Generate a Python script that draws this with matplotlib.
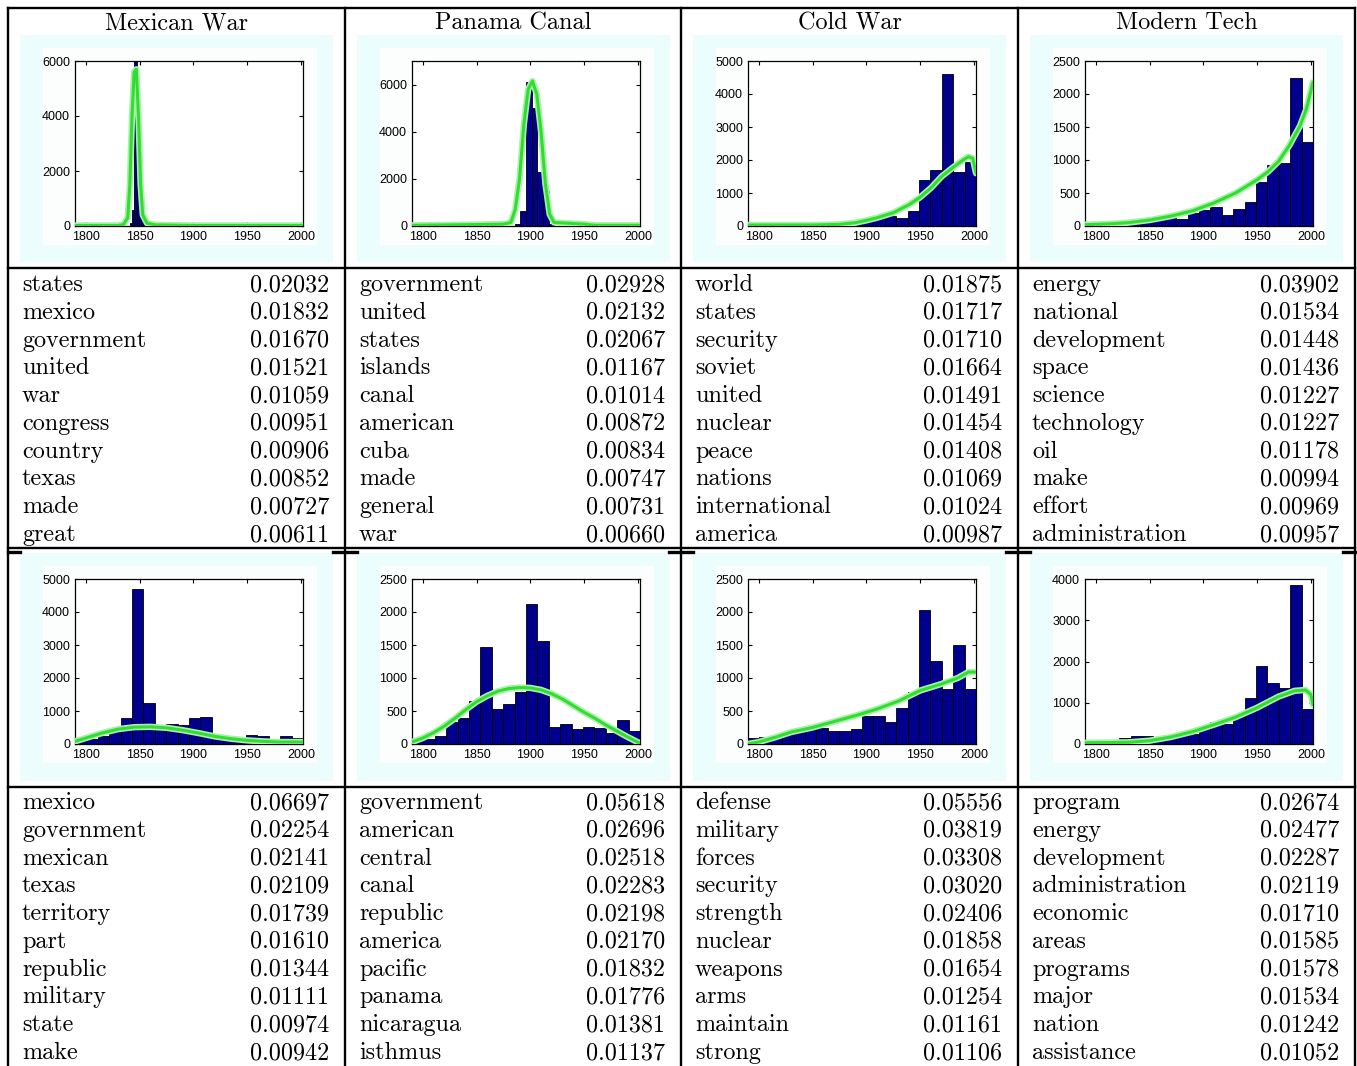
import numpy as np
import matplotlib.pyplot as plt
from matplotlib.patches import Rectangle

W, H = 1357, 1066

topics = ["Mexican War", "Panama Canal", "Cold War", "Modern Tech"]

# ---- word lists (top block) ----
words_top = [
    ["states", "mexico", "government", "united", "war", "congress", "country", "texas", "made", "great"],
    ["government", "united", "states", "islands", "canal", "american", "cuba", "made", "general", "war"],
    ["world", "states", "security", "soviet", "united", "nuclear", "peace", "nations", "international", "america"],
    ["energy", "national", "development", "space", "science", "technology", "oil", "make", "effort", "administration"],
]
probs_top = [
    [0.02032, 0.01832, 0.01670, 0.01521, 0.01059, 0.00951, 0.00906, 0.00852, 0.00727, 0.00611],
    [0.02928, 0.02132, 0.02067, 0.01167, 0.01014, 0.00872, 0.00834, 0.00747, 0.00731, 0.00660],
    [0.01875, 0.01717, 0.01710, 0.01664, 0.01491, 0.01454, 0.01408, 0.01069, 0.01024, 0.00987],
    [0.03902, 0.01534, 0.01448, 0.01436, 0.01227, 0.01227, 0.01178, 0.00994, 0.00969, 0.00957],
]

# ---- word lists (bottom block) ----
words_bot = [
    ["mexico", "government", "mexican", "texas", "territory", "part", "republic", "military", "state", "make"],
    ["government", "american", "central", "canal", "republic", "america", "pacific", "panama", "nicaragua", "isthmus"],
    ["defense", "military", "forces", "security", "strength", "nuclear", "weapons", "arms", "maintain", "strong"],
    ["program", "energy", "development", "administration", "economic", "areas", "programs", "major", "nation", "assistance"],
]
probs_bot = [
    [0.06697, 0.02254, 0.02141, 0.02109, 0.01739, 0.01610, 0.01344, 0.01111, 0.00974, 0.00942],
    [0.05618, 0.02696, 0.02518, 0.02283, 0.02198, 0.02170, 0.01832, 0.01776, 0.01381, 0.01137],
    [0.05556, 0.03819, 0.03308, 0.03020, 0.02406, 0.01858, 0.01654, 0.01254, 0.01161, 0.01106],
    [0.02674, 0.02477, 0.02287, 0.02119, 0.01710, 0.01585, 0.01578, 0.01534, 0.01242, 0.01052],
]

YEAR0, YEAR1 = 1790, 2002

# ---- histogram counts, top row ----
hist_top = [
    [0] * 24 + [100, 600, 6000, 3300, 1700, 300, 100] + [0] * 69,          # 100 bins
    [0] * 18 + [100, 650, 6100, 5000, 2300, 1500, 100] + [0] * 15,         # 40 bins
    [20, 20, 20, 20, 20, 20, 20, 20, 40, 80, 200, 230, 300, 250, 440, 1390, 1690, 4600, 1630, 1950],
    [30, 20, 30, 90, 80, 110, 130, 120, 100, 190, 240, 290, 170, 260, 360, 670, 930, 960, 2250, 1280],
]
# ---- histogram counts, bottom row (20 bins) ----
hist_bot = [
    [100, 150, 250, 470, 780, 4690, 1250, 520, 620, 570, 780, 830, 200, 150, 100, 270, 240, 120, 240, 190],
    [60, 80, 120, 340, 390, 650, 1475, 530, 600, 790, 2120, 1565, 260, 310, 220, 260, 240, 170, 360, 200],
    [85, 110, 110, 185, 230, 260, 240, 190, 190, 230, 425, 425, 340, 550, 790, 2030, 1260, 835, 1500, 835],
    [20, 30, 40, 150, 190, 190, 170, 140, 220, 240, 400, 540, 480, 700, 1120, 1890, 1470, 1350, 3850, 850],
]

# ---- fitted curves ----
fit_top = [
    ([1790, 1830, 1835, 1839, 1841, 1843, 1845, 1847, 1849, 1851, 1853, 1857, 1865, 1900, 2002],
     [20, 20, 50, 300, 1500, 4000, 5600, 5700, 4000, 1500, 400, 100, 40, 20, 20]),
    ([1790, 1850, 1875, 1882, 1886, 1890, 1894, 1898, 1902, 1906, 1910, 1914, 1918, 1922, 1950, 1960, 2002],
     [30, 60, 80, 150, 700, 2000, 4300, 5800, 6150, 5600, 4000, 1800, 500, 150, 80, 30, 30]),
    ([1790, 1850, 1875, 1890, 1900, 1910, 1925, 1940, 1950, 1960, 1970, 1980, 1990, 1995, 1999, 2002],
     [30, 30, 50, 100, 170, 250, 400, 650, 870, 1150, 1500, 1760, 2000, 2100, 2050, 1600]),
    ([1790, 1810, 1830, 1850, 1870, 1890, 1910, 1930, 1950, 1960, 1970, 1980, 1990, 1996, 2002],
     [20, 30, 50, 90, 150, 230, 350, 500, 700, 820, 980, 1220, 1520, 1780, 2180]),
]
fit_bot = [
    ([1790, 1800, 1815, 1830, 1845, 1860, 1875, 1890, 1905, 1920, 1935, 1950, 1965, 1980, 2002],
     [80, 180, 330, 450, 510, 520, 490, 420, 330, 230, 160, 110, 80, 60, 60]),
    ([1790, 1800, 1810, 1820, 1830, 1840, 1850, 1860, 1870, 1880, 1890, 1900, 1910, 1920, 1930,
      1940, 1950, 1960, 1970, 1980, 1990, 2002],
     [30, 90, 170, 270, 390, 520, 640, 730, 800, 840, 855, 850, 820, 760, 680,
      580, 480, 390, 290, 200, 110, 10]),
    ([1790, 1800, 1815, 1830, 1850, 1870, 1890, 1910, 1930, 1950, 1970, 1985, 1995, 2002],
     [0, 30, 100, 180, 250, 340, 430, 530, 650, 810, 910, 1000, 1090, 1090]),
    ([1790, 1830, 1850, 1870, 1890, 1910, 1930, 1950, 1970, 1985, 1995, 2000, 2002],
     [30, 40, 80, 170, 300, 470, 650, 880, 1150, 1290, 1310, 1200, 950]),
]

ylim_top = [6000, 7000, 5000, 2500]
ystep_top = [2000, 2000, 1000, 500]
ylim_bot = [5000, 2500, 2500, 4000]
ystep_bot = [1000, 500, 500, 1000]

# ---------------- layout ----------------
seps = [8, 345, 681, 1018, 1355]
CYAN = "#ebfdfd"
SERIF = "cmr10"
FS = 17.4

fig = plt.figure(figsize=(W / 100, H / 100), dpi=100)
bg = fig.add_axes([0, 0, 1, 1])
bg.set_xlim(0, W)
bg.set_ylim(H, 0)
bg.axis("off")


def fig_rect(x0, y0, x1, y1):
    return [x0 / W, 1 - y1 / H, (x1 - x0) / W, (y1 - y0) / H]


def draw_plot(L, rows, counts, fit, ymax, ystep):
    cy0, cy1, wy0, wy1, ay0, ay1 = rows
    bg.add_patch(Rectangle((L + 12, cy0), 313, cy1 - cy0, color=CYAN, lw=0, zorder=0))
    bg.add_patch(Rectangle((L + 35, wy0), 274, wy1 - wy0, color="#fcfefe", lw=0, zorder=1))
    ax = fig.add_axes(fig_rect(L + 67, ay0, L + 295, ay1))
    edges = np.linspace(YEAR0, YEAR1, len(counts) + 1)
    ax.bar(edges[:-1], counts, width=np.diff(edges), align="edge",
           color="#00008c", edgecolor="black", linewidth=0.6, zorder=2)
    ax.plot(fit[0], fit[1], color="#a8f2a8", lw=4.6, solid_capstyle="round", zorder=3)
    ax.plot(fit[0], fit[1], color="#33dc33", lw=2.2, solid_capstyle="round", zorder=4)
    ax.set_xlim(YEAR0, YEAR1)
    ax.set_ylim(0, ymax)
    ax.set_xticks([1800, 1850, 1900, 1950, 2000])
    ax.set_yticks(np.arange(0, ymax + 1, ystep))
    ax.tick_params(direction="in", length=3, width=0.8, top=True, right=True,
                   labelsize=9, pad=3.5)
    for lab in ax.get_xticklabels() + ax.get_yticklabels():
        lab.set_fontfamily("Liberation Sans")
    for s in ax.spines.values():
        s.set_linewidth(0.9)


def draw_words(L, R, base, words, probs):
    for i, (w, p) in enumerate(zip(words, probs)):
        y = base + i * 27.78
        bg.text(L + 14, y, w, family=SERIF, fontsize=FS, va="baseline", ha="left")
        bg.text(R - 16, y, f"{p:.5f}", family=SERIF, fontsize=FS, va="baseline", ha="right")


top_rows = (35, 262, 48, 245, 61, 226)
bot_rows = (553, 781, 566, 763, 579, 744)

for c in range(4):
    L, R = seps[c], seps[c + 1]
    bg.text((L + R) / 2, 29, topics[c], family=SERIF, fontsize=FS, ha="center", va="baseline")
    draw_plot(L, top_rows, hist_top[c], fit_top[c], ylim_top[c], ystep_top[c])
    draw_plot(L, bot_rows, hist_bot[c], fit_bot[c], ylim_bot[c], ystep_bot[c])
    draw_words(L, R, 291, words_top[c], probs_top[c])
    draw_words(L, R, 809, words_bot[c], probs_bot[c])

# table rules
LW = 1.7
for x in seps:
    bg.plot([x, x], [8, H], color="black", lw=LW, zorder=5)
for y in [8, 268, 548, 787]:
    bg.plot([seps[0], seps[-1]], [y, y], color="black", lw=LW, zorder=5)
for x in seps:
    bg.plot([max(x - 12, seps[0]), min(x + 12, seps[-1])], [552, 552], color="black", lw=2.4, zorder=5)

fig.savefig("out.png", dpi=100)
